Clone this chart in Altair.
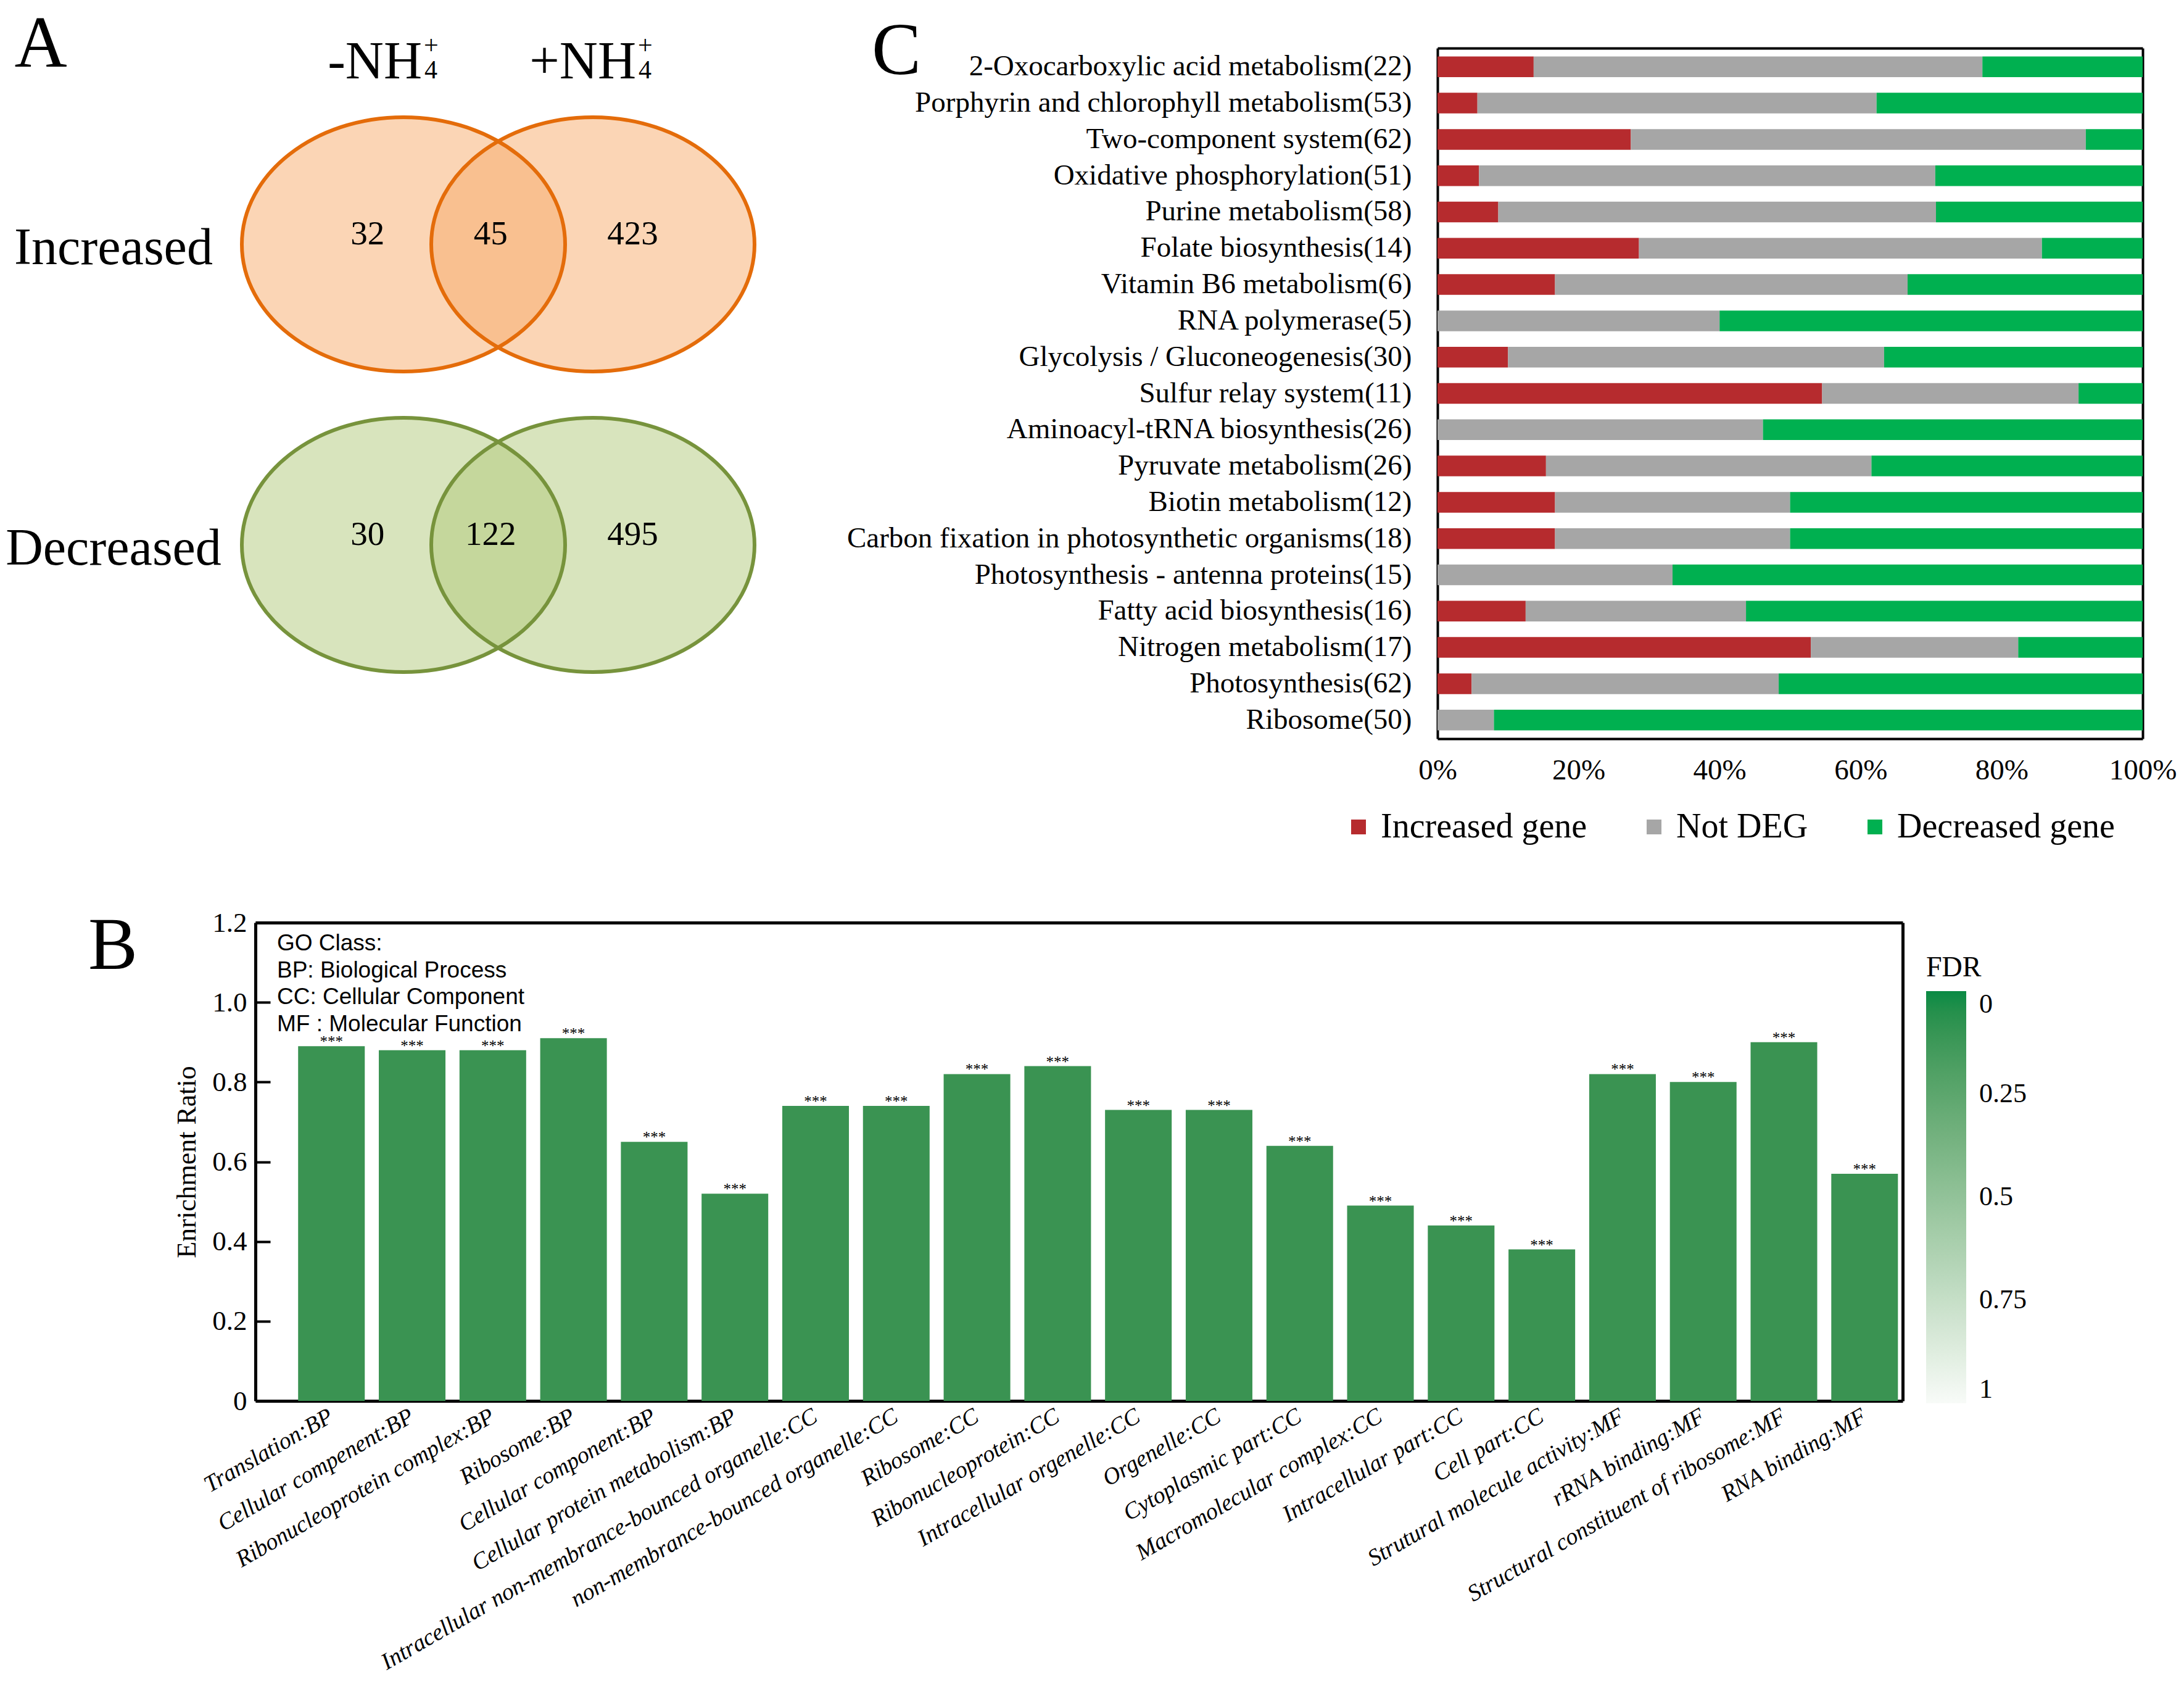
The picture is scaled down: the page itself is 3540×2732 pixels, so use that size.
import altair as alt
import pandas as pd

# ======================= DATA =======================
# Panel A: Venn diagrams (numbers of DEGs)
VENN_ROWS = ["Increased", "Decreased"]
VENN_SETS = ["-NH4+", "+NH4+"]
VENN_REGIONS = ["-NH4+ only", "both", "+NH4+ only"]
VENN_INCREASED = [32, 45, 423]
VENN_DECREASED = [30, 122, 495]

# Panel C: KEGG pathways, gene counts per class
PATHWAYS = [
    "2-Oxocarboxylic acid metabolism",
    "Porphyrin and chlorophyll metabolism",
    "Two-component system",
    "Oxidative phosphorylation",
    "Purine metabolism",
    "Folate biosynthesis",
    "Vitamin B6 metabolism",
    "RNA polymerase",
    "Glycolysis / Gluconeogenesis",
    "Sulfur relay system",
    "Aminoacyl-tRNA biosynthesis",
    "Pyruvate metabolism",
    "Biotin metabolism",
    "Carbon fixation in photosynthetic organisms",
    "Photosynthesis - antenna proteins",
    "Fatty acid biosynthesis",
    "Nitrogen metabolism",
    "Photosynthesis",
    "Ribosome",
]
INCREASED_GENES = [3, 3, 17, 3, 5, 4, 1, 0, 3, 6, 0, 4, 2, 3, 0, 2, 9, 3, 0]
NOT_DEG_GENES = [14, 30, 40, 33, 36, 8, 3, 2, 16, 4, 12, 12, 4, 6, 5, 5, 5, 27, 4]
DECREASED_GENES = [5, 20, 5, 15, 17, 2, 2, 3, 11, 1, 14, 10, 6, 9, 10, 9, 3, 32, 46]
KEGG_SERIES = ["Increased gene", "Not DEG", "Decreased gene"]
C_X_TICKS = [0, 0.2, 0.4, 0.6, 0.8, 1.0]

# Panel B: GO enrichment
GO_TERMS = [
    "Translation:BP",
    "Cellular compenent:BP",
    "Ribonucleoprotein complex:BP",
    "Ribosome:BP",
    "Cellular component:BP",
    "Cellular protein metabolism:BP",
    "Intracellular non-membrance-bounced organelle:CC",
    "non-membrance-bounced organelle:CC",
    "Ribosome:CC",
    "Ribonucleoprotein:CC",
    "Intracellular orgenelle:CC",
    "Orgenelle:CC",
    "Cytoplasmic part:CC",
    "Macromolecular complex:CC",
    "Intracellular part:CC",
    "Cell part:CC",
    "Strutural molecule activity:MF",
    "rRNA binding:MF",
    "Structural constituent of ribosome:MF",
    "RNA binding:MF",
]
ENRICHMENT_RATIO = [0.89, 0.88, 0.88, 0.91, 0.65, 0.52, 0.74, 0.74, 0.82, 0.84,
                    0.73, 0.73, 0.64, 0.49, 0.44, 0.38, 0.82, 0.80, 0.90, 0.57]
SIGNIFICANCE = ["***"] * 20
FDR = [0.0] * 20
B_Y_TICKS = [0, 0.2, 0.4, 0.6, 0.8, 1.0, 1.2]
FDR_TICKS = [0, 0.25, 0.5, 0.75, 1]

# ======================= STYLE / LAYOUT =======================
W, H = 3524, 2716          # plot area = page minus 8px margin
SERIF = "Liberation Serif"
SANS = "Liberation Sans"

VENN_FILL = ["#F7AB6B", "#B1C97B"]
VENN_STROKE = ["#E46C0A", "#77933C"]
C_COLORS = ["#B62B2E", "#A6A6A6", "#00B050"]
BAR_GREEN = "#3A9352"
FDR_DARK, FDR_LIGHT = "#0A8A44", "#F8FBF8"

A_X = [646, 953]           # pixel range for set index 0..1
A_Y = [388, 875]           # pixel range for row index 0..1
ELL_RX, ELL_RY = 262, 206
REGION_POS = [-0.19, 0.46, 1.21]

C_X = [2322, 3465]
C_Y = [70, 1189]
B_X = [406, 3076]
B_Y = [2262, 1487]


def txt(text, x, y, **kw):
    return alt.Chart(pd.DataFrame({"t": [text]})).mark_text(**kw).encode(
        x=alt.value(x), y=alt.value(y), text="t:N")


# ======================= PANEL A =======================
ratio = ELL_RY / ELL_RX
ELLIPSE = f"M -1 0 A 1 {ratio:.4f} 0 1 1 1 0 A 1 {ratio:.4f} 0 1 1 -1 0 Z"
ELL_SIZE = (2 * ELL_RX) ** 2

venn_df = pd.DataFrame([{"row": r, "ri": i, "set": s, "si": j}
                        for i, r in enumerate(VENN_ROWS)
                        for j, s in enumerate(VENN_SETS)])
count_rows = []
for i, (r, vals) in enumerate(zip(VENN_ROWS, [VENN_INCREASED, VENN_DECREASED])):
    for k, (reg, v) in enumerate(zip(VENN_REGIONS, vals)):
        count_rows.append({"row": r, "ri": i, "region": reg, "rx": REGION_POS[k], "n": v})
count_df = pd.DataFrame(count_rows)
row_df = pd.DataFrame({"row": VENN_ROWS, "ri": list(range(len(VENN_ROWS)))})

ax_scale = alt.Scale(domain=[0, 1], range=A_X, nice=False, zero=False)
ay_scale = alt.Scale(domain=[0, 1], range=A_Y, nice=False, zero=False)

a_fill = alt.Chart(venn_df).mark_point(
    shape=ELLIPSE, size=ELL_SIZE, filled=True, fillOpacity=0.5, strokeWidth=0, opacity=1
).encode(
    x=alt.X("si:Q", scale=ax_scale, axis=None),
    y=alt.Y("ri:Q", scale=ay_scale, axis=None),
    fill=alt.Fill("row:N", scale=alt.Scale(domain=VENN_ROWS, range=VENN_FILL), legend=None),
)
a_stroke = alt.Chart(venn_df).mark_point(
    shape=ELLIPSE, size=ELL_SIZE, filled=False, fillOpacity=0, strokeWidth=6, opacity=1
).encode(
    x=alt.X("si:Q", scale=ax_scale, axis=None),
    y=alt.Y("ri:Q", scale=ay_scale, axis=None),
    stroke=alt.Stroke("row:N", scale=alt.Scale(domain=VENN_ROWS, range=VENN_STROKE), legend=None),
)
a_counts = alt.Chart(count_df).mark_text(
    font=SERIF, fontSize=55, color="black", baseline="middle", dy=-17
).encode(
    x=alt.X("rx:Q", scale=ax_scale, axis=None),
    y=alt.Y("ri:Q", scale=ay_scale, axis=None),
    text="n:Q",
)
a_rows = alt.Chart(row_df).mark_text(
    font=SERIF, fontSize=84, color="black", baseline="middle", align="center", dy=7
).encode(
    x=alt.value(176),
    y=alt.Y("ri:Q", scale=ay_scale, axis=None),
    text="row:N",
)
hdr_kw = dict(font=SERIF, fontSize=86, color="black", align="right", baseline="alphabetic")
sup_kw = dict(font=SERIF, fontSize=42, color="black", align="left")
a_headers = [
    txt("-NH", 676, 119, **hdr_kw),
    txt("+", 679, 66, baseline="middle", **sup_kw),
    txt("4", 680, 119, baseline="alphabetic", **sup_kw),
    txt("+NH", 1023, 119, **hdr_kw),
    txt("+", 1026, 66, baseline="middle", **sup_kw),
    txt("4", 1027, 119, baseline="alphabetic", **sup_kw),
]
panelA = alt.layer(a_fill, a_stroke, a_counts, a_rows, *a_headers)

# ======================= PANEL C =======================
c_rows = []
C_LABELS = []
for i, p in enumerate(PATHWAYS):
    vals = [INCREASED_GENES[i], NOT_DEG_GENES[i], DECREASED_GENES[i]]
    label = f"{p}({sum(vals)})"
    C_LABELS.append(label)
    for k, (s, v) in enumerate(zip(KEGG_SERIES, vals)):
        c_rows.append({"label": label, "series": s, "k": k, "n": v})
c_df = pd.DataFrame(c_rows)

cx_scale = alt.Scale(domain=[0, 1], range=C_X, nice=False, zero=False)
cy_scale = alt.Scale(domain=C_LABELS, range=C_Y, paddingInner=0.43, paddingOuter=0.23)


def frame_axis(orient, offset, width=4):
    return alt.Axis(orient=orient, offset=offset, labels=False, ticks=False, tickSize=0,
                    domain=True, domainColor="black", domainWidth=width, grid=False, title=None)


c_bars = alt.Chart(c_df).mark_bar().encode(
    x=alt.X("n:Q", stack="normalize", scale=cx_scale,
            axis=alt.Axis(orient="bottom", offset=C_Y[1] - H, values=C_X_TICKS, format=".0%",
                          labelFlush=False, ticks=False, tickSize=0, domain=True,
                          domainColor="black", domainWidth=4, grid=False, title=None,
                          labelFont=SERIF, labelFontSize=47, labelColor="black", labelPadding=28)),
    y=alt.Y("label:N", sort=C_LABELS, scale=cy_scale,
            axis=alt.Axis(orient="left", offset=-C_X[0], ticks=False, tickSize=0, domain=True,
                          domainColor="black", domainWidth=4, grid=False, title=None,
                          labelFont=SERIF, labelFontSize=47, labelColor="black",
                          labelPadding=42, labelLimit=1500)),
    color=alt.Color("series:N", sort=KEGG_SERIES,
                    scale=alt.Scale(domain=KEGG_SERIES, range=C_COLORS),
                    legend=alt.Legend(orient="none", legendX=2166, legendY=1304,
                                      direction="horizontal", title=None, symbolType="square",
                                      symbolSize=576, symbolStrokeWidth=0, labelFont=SERIF,
                                      labelFontSize=56, labelColor="black", labelOffset=8,
                                      columnPadding=80, padding=0, labelLimit=800)),
    order=alt.Order("k:Q", sort="ascending"),
)
c_frame = alt.Chart(c_df).mark_bar(opacity=0).encode(
    x=alt.X("n:Q", stack="normalize", scale=cx_scale, axis=frame_axis("top", -C_Y[0])),
    y=alt.Y("label:N", sort=C_LABELS, scale=cy_scale, axis=frame_axis("right", C_X[1] - W)),
    order=alt.Order("k:Q", sort="ascending"),
)
panelC = alt.layer(c_bars, c_frame).resolve_axis(x="independent", y="independent")

# ======================= PANEL B =======================
b_df = pd.DataFrame({"term": GO_TERMS, "ratio": ENRICHMENT_RATIO,
                     "sig": SIGNIFICANCE, "fdr": FDR})
bx_scale = alt.Scale(domain=GO_TERMS, range=B_X, paddingInner=0.174,
                     paddingOuter=0.294, align=0.9)
by_scale = alt.Scale(domain=[0, 1.2], range=B_Y, nice=False, zero=False)

b_base = alt.Chart(b_df)
b_bars = b_base.mark_bar(color=BAR_GREEN).encode(
    x=alt.X("term:N", sort=GO_TERMS, scale=bx_scale,
            axis=alt.Axis(orient="bottom", offset=B_Y[0] - H, labelAngle=-30, labelAlign="right",
                          labelBaseline="middle", labelFont=SERIF, labelFontStyle="italic",
                          labelFontSize=38, labelColor="black", labelPadding=22, labelLimit=2000,
                          labelOverlap=False, ticks=False, tickSize=0, domain=True,
                          domainColor="black", domainWidth=5, grid=False, title=None)),
    y=alt.Y("ratio:Q", scale=by_scale,
            axis=alt.Axis(orient="left", offset=-B_X[0], values=B_Y_TICKS,
                          labelExpr="datum.value == 0 ? '0' : format(datum.value, '.1f')",
                          ticks=False, tickSize=0, domain=True, domainColor="black",
                          domainWidth=5, grid=False, labelFont=SERIF, labelFontSize=45,
                          labelColor="black", labelPadding=14, title="Enrichment Ratio",
                          titleFont=SERIF, titleFontSize=44, titleFontWeight="normal",
                          titleColor="black", titlePadding=18)),
)
b_stars = b_base.mark_text(font=SERIF, fontSize=25, color="black", baseline="alphabetic",
                           dy=1).encode(
    x=alt.X("term:N", sort=GO_TERMS, scale=bx_scale, axis=None),
    y=alt.Y("ratio:Q", scale=by_scale, axis=None),
    text="sig:N",
)
b_frame = b_base.mark_bar(opacity=0).encode(
    x=alt.X("term:N", sort=GO_TERMS, scale=bx_scale, axis=frame_axis("top", -B_Y[1], 5)),
    y=alt.Y("ratio:Q", scale=by_scale, axis=frame_axis("right", B_X[1] - W, 5)),
)
b_ticks = b_base.mark_bar(opacity=0).encode(
    x=alt.X("term:N", sort=GO_TERMS, scale=bx_scale, axis=None),
    y=alt.Y("ratio:Q", scale=by_scale,
            axis=alt.Axis(orient="right", offset=B_X[0] - W, values=B_Y_TICKS, labels=False,
                          domain=False, ticks=True, tickSize=24, tickWidth=4,
                          tickColor="black", grid=False, title=None)),
)
# FDR gradient legend: 0 (dark) at the top, 1 (white) at the bottom
b_legend = b_base.mark_point(size=0, strokeOpacity=0, fillOpacity=0).encode(
    x=alt.X("term:N", sort=GO_TERMS, scale=bx_scale, axis=None),
    y=alt.Y("ratio:Q", scale=by_scale, axis=None),
    color=alt.Color("fdr:Q", scale=alt.Scale(domain=[1, 0], range=[FDR_LIGHT, FDR_DARK]),
                    legend=alt.Legend(orient="none", legendX=3114, legendY=1538, title="FDR",
                                      titleFont=SERIF, titleFontSize=46,
                                      titleFontWeight="normal", titleColor="black",
                                      titlePadding=14, gradientLength=668,
                                      gradientThickness=65, gradientStrokeWidth=0,
                                      labelFont=SERIF, labelFontSize=44, labelColor="black",
                                      labelOffset=21, values=FDR_TICKS, format=".2~f",
                                      direction="vertical", padding=0)),
)
go_text = txt("GO Class:\nBP: Biological Process\nCC: Cellular Component\nMF : Molecular Function",
              441, 1503, font=SANS, fontSize=37, color="black", align="left", baseline="top",
              lineBreak="\n", lineHeight=43.5)
panelB = alt.layer(b_bars, b_stars, b_frame, b_ticks, b_legend).resolve_axis(
    x="independent", y="independent")

# ======================= PANEL LETTERS =======================
letter_kw = dict(font=SERIF, color="black", align="center", baseline="alphabetic")
letters = [txt("A", 58, 100, fontSize=118, **letter_kw),
           txt("C", 1445, 112, fontSize=120, **letter_kw),
           txt("B", 175, 1562, fontSize=120, **letter_kw)]

chart = alt.layer(panelA, panelC, panelB, go_text, *letters).resolve_scale(
    x="independent", y="independent", color="independent"
).properties(width=W, height=H, padding=0, background="white").configure_view(stroke=None)

chart.save("out.html", embed_options={"renderer": "svg", "actions": False})
